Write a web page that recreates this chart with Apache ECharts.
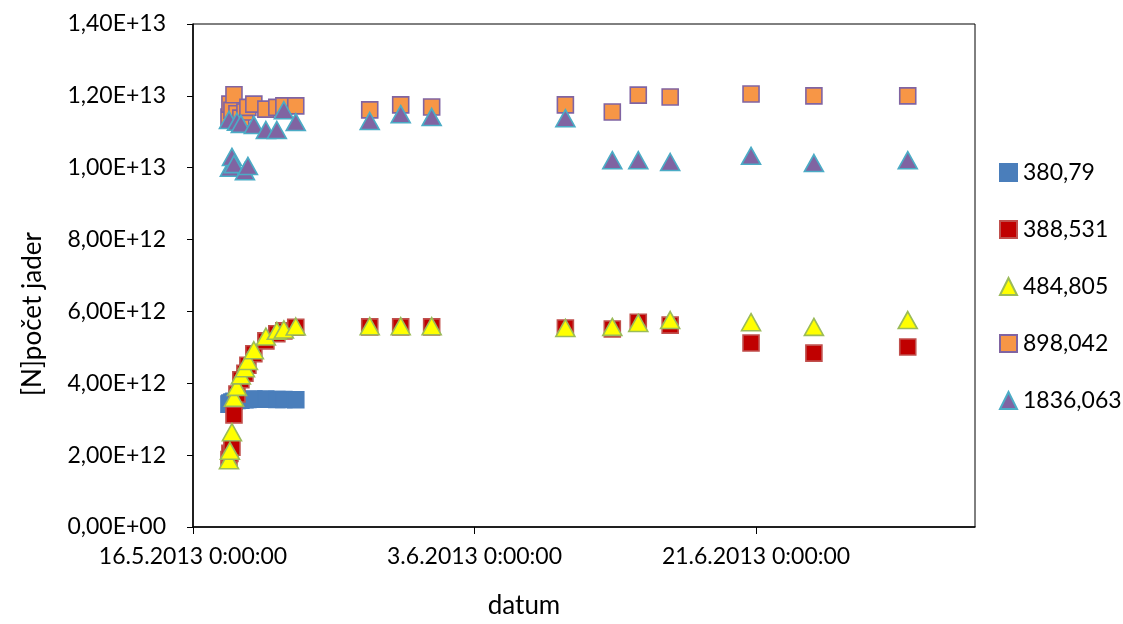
<!DOCTYPE html>
<html>
<head>
<meta charset="utf-8">
<script src="https://cdn.jsdelivr.net/npm/echarts@6/dist/echarts.min.js"></script>
<style>html,body{margin:0;padding:0;background:#fff}#c{width:1123px;height:624px}</style>
</head>
<body>
<div id="c"></div>
<script>
// Measurement times (UTC)
var dates = [
  "2013-05-18T07:12", "2013-05-18T08:38", "2013-05-18T11:45", "2013-05-18T14:53",
  "2013-05-18T19:26", "2013-05-19T01:26", "2013-05-19T07:40", "2013-05-19T12:14",
  "2013-05-19T21:22", "2013-05-20T15:50", "2013-05-21T08:38", "2013-05-21T19:26",
  "2013-05-22T13:41", "2013-05-27T07:12", "2013-05-29T06:43", "2013-05-31T06:14",
  "2013-06-08T19:26", "2013-06-11T19:26", "2013-06-13T11:17", "2013-06-15T12:14",
  "2013-06-20T16:19", "2013-06-24T16:48", "2013-06-30T16:48"
];
var seriesNames = ["380,79", "388,531", "484,805", "898,042", "1836,063"];
var s380 = [3.42e12, 3.45e12, 3.48e12, 3.50e12, 3.52e12, 3.53e12, 3.54e12, 3.55e12, 3.56e12, 3.56e12, 3.55e12, 3.55e12, 3.54e12,
  null, null, null, null, null, null, null, null, null, null];
var s388 = [1.88e12, 2.05e12, 2.22e12, 3.12e12, 3.70e12, 4.10e12, 4.28e12, 4.50e12, 4.82e12, 5.18e12, 5.38e12, 5.46e12, 5.56e12,
  5.57e12, 5.57e12, 5.57e12, 5.54e12, 5.51e12, 5.70e12, 5.62e12, 5.12e12, 4.84e12, 5.01e12];
var s484 = [1.86e12, 2.12e12, 2.64e12, 3.60e12, 3.90e12, 4.22e12, 4.42e12, 4.62e12, 4.92e12, 5.30e12, 5.46e12, 5.50e12, 5.58e12,
  5.59e12, 5.59e12, 5.59e12, 5.54e12, 5.57e12, 5.68e12, 5.76e12, 5.70e12, 5.57e12, 5.76e12];
var s898 = [1.141e13, 1.177e13, 1.160e13, 1.203e13, 1.150e13, 1.138e13, 1.155e13, 1.168e13, 1.177e13, 1.163e13, 1.168e13, 1.172e13, 1.172e13,
  1.161e13, 1.175e13, 1.169e13, 1.175e13, 1.155e13, 1.202e13, 1.197e13, 1.205e13, 1.200e13, 1.200e13];
var s1836 = [1.133e13, 1.000e13, 1.030e13, 1.010e13, 1.128e13, 1.122e13, 0.990e13, 1.005e13, 1.119e13, 1.105e13, 1.105e13, 1.160e13, 1.127e13,
  1.130e13, 1.149e13, 1.141e13, 1.138e13, 1.021e13, 1.021e13, 1.016e13, 1.033e13, 1.013e13, 1.021e13];
var xTickLabels = ["16.5.2013 0:00:00", "3.6.2013 0:00:00", "21.6.2013 0:00:00"];
var yTickLabels = ["0,00E+00", "2,00E+12", "4,00E+12", "6,00E+12", "8,00E+12", "1,00E+13", "1,20E+13", "1,40E+13"];

var startMs = Date.UTC(2013, 4, 16);
var DAY = 86400000;
function toDays(s) { return (Date.parse(s + ":00Z") - startMs) / DAY; }
function pairs(vals) {
  var out = [];
  for (var i = 0; i < dates.length; i++) if (vals[i] != null) out.push([toDays(dates[i]), vals[i]]);
  return out;
}
var FONT = "Lato";
var styles = [
  {symbol: "rect", color: "#4a7ebb", border: "#4a7ebb"},
  {symbol: "rect", color: "#c00000", border: "#c0504d"},
  {symbol: "triangle", color: "#ffff00", border: "#9bbb59"},
  {symbol: "rect", color: "#f79646", border: "#8064a2"},
  {symbol: "triangle", color: "#8064a2", border: "#4bacc6"}
];
var allData = [s380, s388, s484, s898, s1836];
var series = allData.map(function (d, i) {
  return {
    name: seriesNames[i], type: "scatter", data: pairs(d),
    symbol: styles[i].symbol, symbolSize: styles[i].symbol === "rect" ? 16 : [19, 17],
    itemStyle: {color: styles[i].color, borderColor: styles[i].border, borderWidth: 1.6, opacity: 1},
    emphasis: {disabled: true}, animation: false
  };
});

var chart = echarts.init(document.getElementById("c"));
chart.setOption({
  animation: false,
  grid: {left: 193, right: 148, top: 24, bottom: 97, show: true, borderColor: "#000", borderWidth: 1},
  xAxis: {
    type: "value", min: 0, max: 50, interval: 18,
    axisLine: {show: true, lineStyle: {color: "#000", width: 1.5}},
    axisTick: {show: true, length: 7, inside: false, lineStyle: {color: "#000", width: 1}},
    splitLine: {show: false},
    axisLabel: {
      showMaxLabel: false, margin: 18, color: "#000", fontFamily: FONT, fontSize: 23,
      formatter: function (v) { return xTickLabels[Math.round(v / 18)] || ""; }
    }
  },
  yAxis: {
    type: "value", min: 0, max: 1.4e13, interval: 2e12,
    axisLine: {show: true, lineStyle: {color: "#000", width: 1.5}},
    axisTick: {show: true, length: 6, lineStyle: {color: "#000", width: 1}},
    splitLine: {show: false},
    axisLabel: {
      margin: 27, color: "#000", fontFamily: FONT, fontSize: 23,
      formatter: function (v) { return yTickLabels[Math.round(v / 2e12)]; }
    }
  },
  legend: {
    orient: "vertical", left: 994, top: 156, itemGap: 34, itemWidth: 17, itemHeight: 17,
    textStyle: {color: "#000", fontFamily: FONT, fontSize: 23, lineHeight: 20, padding: [0, 0, 0, 1]},
    data: seriesNames, selectedMode: false
  },
  graphic: [
    {type: "text", x: 33, y: 314, rotation: Math.PI / 2,
      style: {text: "[N]počet jader", fontFamily: FONT, fontSize: 26, fill: "#000", align: "center", verticalAlign: "middle"}},
    {type: "text", x: 524, y: 606,
      style: {text: "datum", fontFamily: FONT, fontSize: 26, fill: "#000", align: "center", verticalAlign: "middle"}}
  ],
  series: series
});
</script>
</body>
</html>
